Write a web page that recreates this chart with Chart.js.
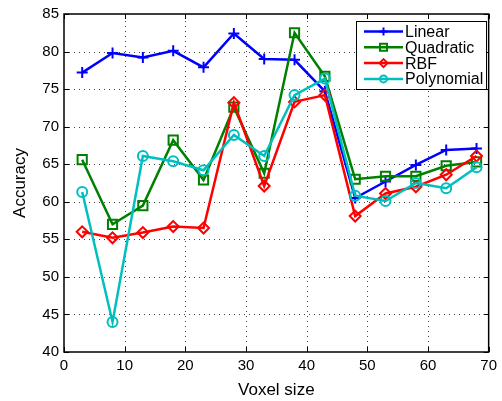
<!DOCTYPE html>
<html>
<head>
<meta charset="utf-8">
<script src="https://cdn.jsdelivr.net/npm/chart.js@4/dist/chart.umd.min.js"></script>
<style>
  html, body { margin: 0; padding: 0; background: #fff; }
  #wrap { width: 502px; height: 401px; }
</style>
</head>
<body>
<div id="wrap"><canvas id="accChart" width="502" height="401"></canvas></div>
<script>
// 体素大小与各核函数的准确率
const voxelSizes = [3, 8, 13, 18, 23, 28, 33, 38, 43, 48, 53, 58, 63, 68];
const linearAcc = [77.2, 79.8, 79.2, 80.1, 77.9, 82.4, 79.0, 78.9, 74.7, 60.5, 62.7, 64.9, 66.9, 67.1];
const quadraticAcc = [65.6, 57.0, 59.5, 68.2, 62.9, 72.6, 63.8, 82.5, 76.7, 63.0, 63.4, 63.4, 64.8, 65.3];
const rbfAcc = [56.0, 55.2, 55.9, 56.7, 56.5, 73.2, 62.1, 73.3, 74.2, 58.1, 61.1, 62.0, 63.6, 66.1];
const polyAcc = [61.3, 44.0, 66.1, 65.4, 64.2, 68.9, 66.1, 74.2, 76.4, 60.8, 60.1, 62.5, 61.8, 64.6];
const xTicks = [0, 10, 20, 30, 40, 50, 60, 70];
const yTicks = [40, 45, 50, 55, 60, 65, 70, 75, 80, 85];

const FONT = '"Liberation Sans", Arial, sans-serif';

function toPoints(values) {
    return values.map((v, i) => ({ x: voxelSizes[i], y: v }));
}

function makeSeries(label, values, color, style, radius, order) {
    return {
        label: label,
        data: toPoints(values),
        borderColor: color,
        backgroundColor: color,
        borderWidth: 2.5,
        pointStyle: style,
        pointRadius: radius,
        pointBorderColor: color,
        pointBackgroundColor: 'rgba(0,0,0,0)',
        pointBorderWidth: 2,
        tension: 0,
        order: order
    };
}

// 点线网格（画在曲线下面）
const dottedGrid = {
    id: 'dottedGrid',
    beforeDatasetsDraw(chart) {
        const { ctx, chartArea: a, scales } = chart;
        ctx.save();
        ctx.strokeStyle = '#444';
        ctx.lineWidth = 1;
        ctx.setLineDash([1, 4]);
        ctx.beginPath();
        xTicks.slice(1, -1).forEach(t => {
            const px = Math.round(scales.x.getPixelForValue(t)) + 0.5;
            ctx.moveTo(px, a.bottom);
            ctx.lineTo(px, a.top);
        });
        yTicks.slice(1, -1).forEach(t => {
            const py = Math.round(scales.y.getPixelForValue(t)) + 0.5;
            ctx.moveTo(a.left, py);
            ctx.lineTo(a.right, py);
        });
        ctx.stroke();
        ctx.restore();
    }
};

// 外框、内向刻度和图例
const matlabFrame = {
    id: 'matlabFrame',
    afterDraw(chart) {
        const { ctx, chartArea: a, scales } = chart;
        ctx.save();
        ctx.strokeStyle = '#000';
        ctx.lineWidth = 1.5;
        ctx.strokeRect(a.left, a.top, a.right - a.left, a.bottom - a.top);

        ctx.lineWidth = 1;
        const len = 5;
        ctx.beginPath();
        xTicks.forEach(t => {
            const px = Math.round(scales.x.getPixelForValue(t)) + 0.5;
            ctx.moveTo(px, a.bottom); ctx.lineTo(px, a.bottom - len);
            ctx.moveTo(px, a.top); ctx.lineTo(px, a.top + len);
        });
        yTicks.forEach(t => {
            const py = Math.round(scales.y.getPixelForValue(t)) + 0.5;
            ctx.moveTo(a.left, py); ctx.lineTo(a.left + len, py);
            ctx.moveTo(a.right, py); ctx.lineTo(a.right - len, py);
        });
        ctx.stroke();

        // 图例
        const bx = 356, by = 21, bw = 130, bh = 68;
        ctx.fillStyle = '#fff';
        ctx.fillRect(bx, by, bw, bh);
        ctx.strokeStyle = '#000';
        ctx.lineWidth = 1;
        ctx.strokeRect(bx + 0.5, by + 0.5, bw, bh);

        ctx.font = '16px ' + FONT;
        ctx.textBaseline = 'middle';
        ctx.textAlign = 'left';
        chart.data.datasets.forEach((ds, i) => {
            const y = 31.5 + i * 15.8;
            ctx.strokeStyle = ds.borderColor;
            ctx.lineWidth = 2.5;
            ctx.beginPath();
            ctx.moveTo(364, y);
            ctx.lineTo(403, y);
            ctx.stroke();
            ctx.lineWidth = 2;
            ctx.fillStyle = 'rgba(0,0,0,0)';
            Chart.helpers.drawPoint(ctx, {
                pointStyle: ds.pointStyle,
                radius: ds.pointRadius - 1.5,
                rotation: 0,
                borderWidth: 2
            }, 383.5, y);
            ctx.fillStyle = '#000';
            ctx.fillText(ds.label, 405, y + 1);
        });
        ctx.restore();
    }
};

new Chart(document.getElementById('accChart'), {
    type: 'line',
    data: {
        datasets: [
            makeSeries('Linear', linearAcc, '#0000ff', 'cross', 5.5, 3),
            makeSeries('Quadratic', quadraticAcc, '#008000', 'rect', 6.5, 2),
            makeSeries('RBF', rbfAcc, '#ff0000', 'rectRot', 5.5, 1),
            makeSeries('Polynomial', polyAcc, '#00bfbf', 'circle', 5, 0)
        ]
    },
    options: {
        responsive: false,
        animation: false,
        layout: { padding: { left: 0, right: 9, top: 14, bottom: 0 } },
        plugins: {
            legend: { display: false },
            tooltip: { enabled: false }
        },
        scales: {
            x: {
                type: 'linear',
                min: 0,
                max: 70,
                afterFit(scale) { scale.height = 49; },
                afterBuildTicks(scale) { scale.ticks = xTicks.map(v => ({ value: v })); },
                grid: { display: false, drawTicks: false },
                border: { display: false },
                ticks: {
                    color: '#000',
                    padding: 5,
                    font: { family: FONT, size: 15 }
                },
                title: {
                    display: true,
                    text: 'Voxel size',
                    color: '#000',
                    padding: { top: 0, bottom: 0 },
                    font: { family: FONT, size: 17 }
                }
            },
            y: {
                min: 40,
                max: 85,
                afterFit(scale) { scale.width = 64; },
                afterBuildTicks(scale) { scale.ticks = yTicks.map(v => ({ value: v })); },
                grid: { display: false, drawTicks: false },
                border: { display: false },
                ticks: {
                    color: '#000',
                    padding: 5,
                    font: { family: FONT, size: 15 }
                },
                title: {
                    display: true,
                    text: 'Accuracy',
                    color: '#000',
                    padding: { top: 10, bottom: 0 },
                    font: { family: FONT, size: 17 }
                }
            }
        }
    },
    plugins: [dottedGrid, matlabFrame]
});
</script>
</body>
</html>
